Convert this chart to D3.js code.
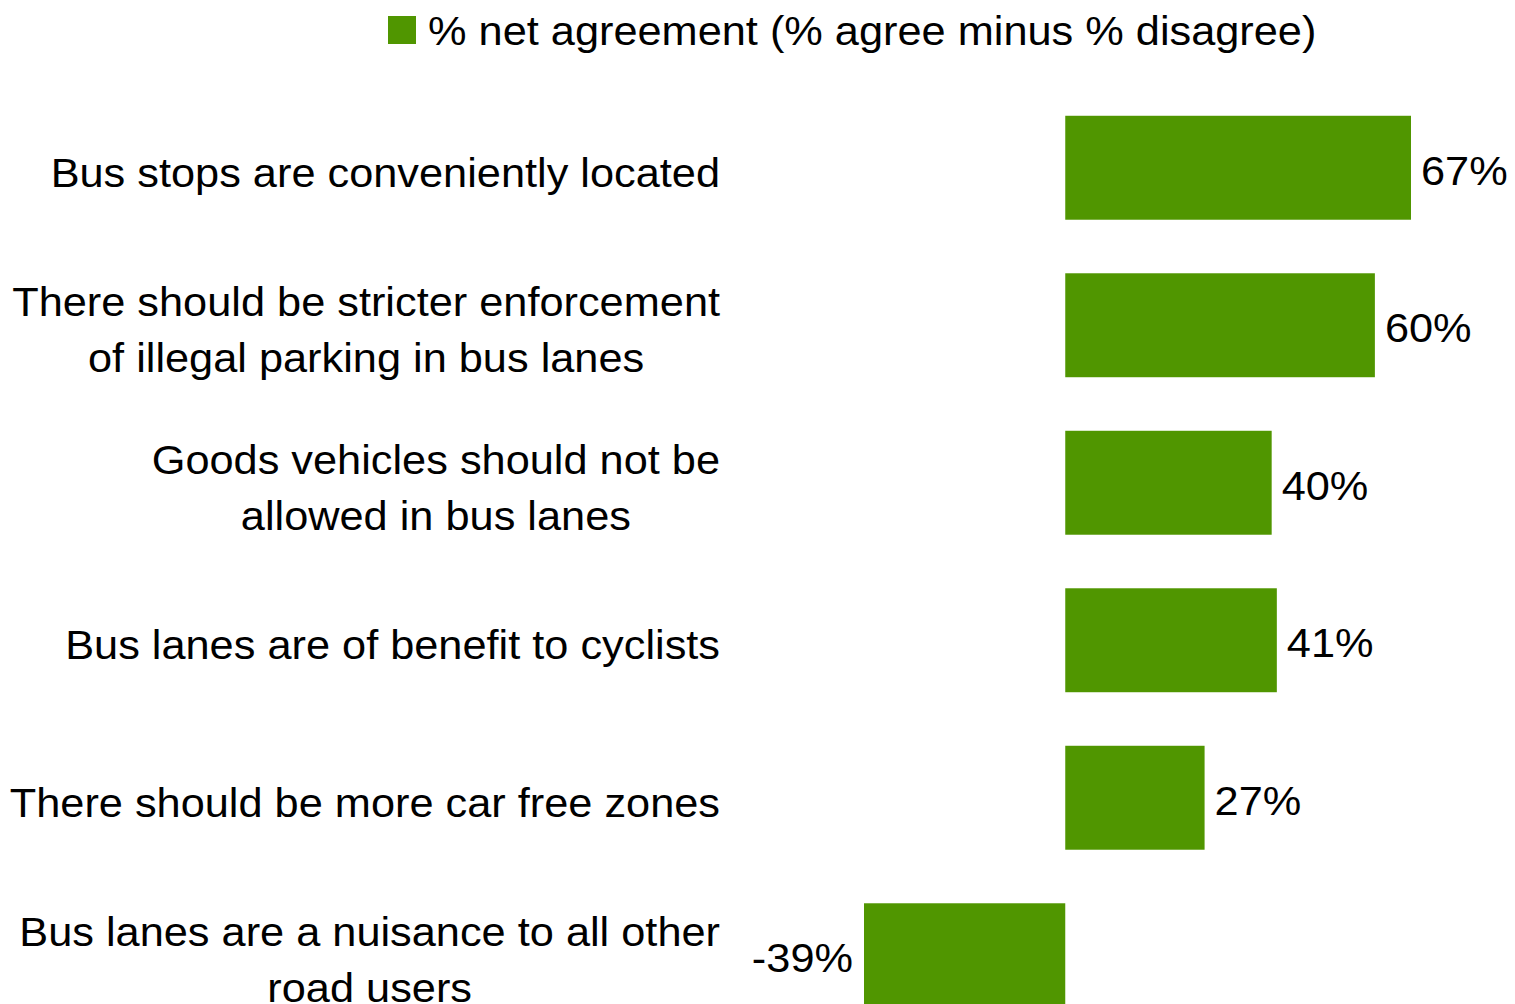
<!DOCTYPE html>
<html>
<head>
<meta charset="utf-8">
<script src="https://cdn.jsdelivr.net/npm/d3@7"></script>
<style>
  html, body { margin: 0; padding: 0; background: #fff; }
  svg { display: block; font-family: "Liberation Sans", Arial, sans-serif; }
</style>
</head>
<body>
<svg id="chart" width="1515" height="1004"></svg>
<script>
// Survey statements (each entry is a list of label lines)
const statements = [
  ["Bus stops are conveniently located"],
  ["There should be stricter enforcement", "of illegal parking in bus lanes"],
  ["Goods vehicles should not be", "allowed in bus lanes"],
  ["Bus lanes are of benefit to cyclists"],
  ["There should be more car free zones"],
  ["Bus lanes are a nuisance to all other", "road users"]
];
// Net agreement, % agree minus % disagree
const netAgreement = [67, 60, 40, 41, 27, -39];
const seriesName = "% net agreement (% agree minus % disagree)";

const width = 1515, height = 1004;
const green = "#509600";
const fontSize = 40;
const sx = 1.083; // horizontal text stretch

const svg = d3.select("#chart");

const x = d3.scaleLinear().domain([-39, 67]).range([864, 1411]);
const y = d3.scaleBand()
  .domain(d3.range(statements.length))
  .range([89, 1034])
  .paddingInner(0.34)
  .paddingOuter(0.17);

// Bars
svg.append("g").selectAll("rect")
  .data(netAgreement)
  .join("rect")
  .attr("x", d => x(Math.min(0, d)))
  .attr("width", d => Math.abs(x(d) - x(0)))
  .attr("y", (d, i) => y(i))
  .attr("height", y.bandwidth())
  .attr("fill", green);

// Helper: draw text stretched horizontally around an anchor x
function stretched(g, tx, ty, str, anchor) {
  return g.append("text")
    .attr("transform", `translate(${tx},${ty}) scale(${sx},1)`)
    .attr("text-anchor", anchor)
    .attr("dominant-baseline", "central")
    .attr("font-size", fontSize)
    .attr("fill", "#000")
    .text(str);
}

// Value labels
const vl = svg.append("g");
netAgreement.forEach((d, i) => {
  const cy = y(i) + y.bandwidth() / 2 + 3;
  if (d >= 0) stretched(vl, x(d) + 10, cy, d + "%", "start");
  else stretched(vl, x(d) - 11, cy, d + "%", "end");
});

// Category labels: lines centred inside a right-aligned block
const labelRight = 720;
const lineGap = 56;
const lg = svg.append("g");
statements.forEach((lines, i) => {
  const cy = y(i) + y.bandwidth() / 2 + 5;
  const g = lg.append("g");
  const texts = lines.map((s, k) =>
    stretched(g, 0, cy + (k - (lines.length - 1) / 2) * lineGap, s, "middle"));
  const widths = texts.map(t => t.node().getComputedTextLength() * sx);
  const blockW = d3.max(widths);
  const cx = labelRight - blockW / 2;
  texts.forEach((t, k) => {
    const ty = cy + (k - (lines.length - 1) / 2) * lineGap;
    t.attr("transform", `translate(${cx},${ty}) scale(${sx},1)`);
  });
});

// Legend
const leg = svg.append("g");
leg.append("rect").attr("x", 388).attr("y", 16).attr("width", 28).attr("height", 28).attr("fill", green);
stretched(leg, 428, 31, seriesName, "start");
</script>
</body>
</html>
